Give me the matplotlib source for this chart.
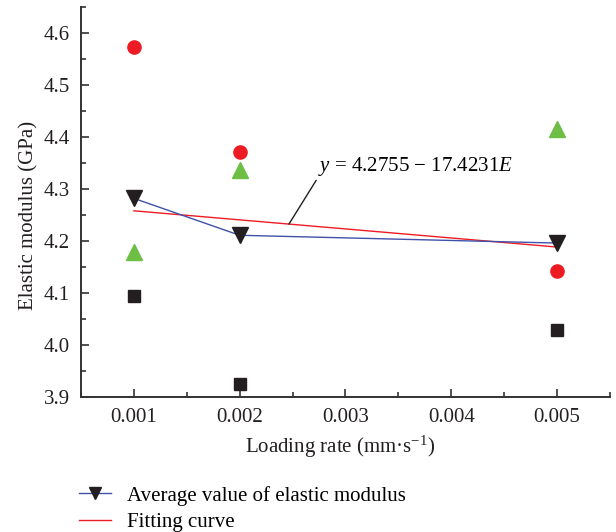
import matplotlib
matplotlib.use("Agg")
import matplotlib.pyplot as plt
import numpy as np
from matplotlib.ticker import MultipleLocator

plt.rcParams['font.family'] = ['Liberation Serif', 'DejaVu Serif']
plt.rcParams['mathtext.fontset'] = 'custom'
plt.rcParams['mathtext.rm'] = 'Liberation Serif'
plt.rcParams['mathtext.it'] = 'Liberation Serif:italic'

# Data
loading_rate = [0.001, 0.002, 0.005]
sample_red = [4.574, 4.372, 4.143]
sample_green = [4.178, 4.336, 4.416]
sample_black = [4.094, 3.924, 4.029]
average_modulus = [4.282, 4.211, 4.196]
fit_intercept = 4.2755
fit_slope = -17.4231
fit_range = [0.001, 0.005]
x_ticks = [0.001, 0.002, 0.003, 0.004, 0.005]
x_ticklabels = ['0.001', '0.002', '0.003', '0.004', '0.005']
y_ticks = [3.9, 4.0, 4.1, 4.2, 4.3, 4.4, 4.5, 4.6]

FS = 15

fig = plt.figure(figsize=(6.16, 5.32), dpi=100)
ax = fig.add_axes([0.1315, 0.2538, 0.8585, 0.733])

RED = '#ED1C24'
GREEN = '#6DBE45'
BLACK = '#231F20'
BLUE = '#3F51A8'

ax.plot(loading_rate, sample_red, 'o', color=RED, markersize=9.5, zorder=3)
ax.plot(loading_rate, sample_green, '^', color=GREEN, markersize=11.5, zorder=3)
ax.plot(loading_rate, sample_black, 's', color=BLACK, markersize=8.3, zorder=3)

fit_x = np.array(fit_range)
fit_y = fit_intercept + fit_slope * fit_x
ax.plot(loading_rate, average_modulus, '-', color=BLUE, lw=1.0, marker='v',
        markersize=12, markerfacecolor=BLACK, markeredgecolor=BLACK,
        label='Average value of elastic modulus', zorder=4)
ax.plot(fit_x, fit_y, '-', color=RED, lw=1.0, label='Fitting curve', zorder=3)

E0 = 0.002466
ax.annotate(r'$y$ = 4.2755 − 17.4231$E$', xy=(E0, fit_intercept + fit_slope * E0),
            xytext=(0.00274, 4.322), fontsize=FS, ha='left', va='bottom',
            arrowprops=dict(arrowstyle='-', color=BLACK, lw=1.0, relpos=(0, 0),
                            shrinkA=0, shrinkB=0))

ax.set_xlim(0.0005, 0.0055)
ax.set_ylim(3.9, 4.65)
ax.set_xticks(x_ticks)
ax.set_xticklabels(x_ticklabels)
ax.set_yticks(y_ticks)
ax.set_yticklabels([f'{v:.1f}' for v in y_ticks])
ax.xaxis.set_minor_locator(MultipleLocator(0.0005))
ax.yaxis.set_minor_locator(MultipleLocator(0.05))

for s in ['top', 'right']:
    ax.spines[s].set_visible(False)
for s in ['left', 'bottom']:
    ax.spines[s].set_linewidth(1.4)
    ax.spines[s].set_color('#333333')

ax.tick_params(which='major', direction='in', length=6, width=1.2, labelsize=FS,
               colors='#333333', labelcolor='#231F20', pad=8)
ax.tick_params(which='minor', direction='in', length=3.5, width=1.2, colors='#333333')

ax.set_xlabel('Loading rate (mm·s$^{-1}$)', fontsize=FS, color='#231F20')
ax.set_ylabel('Elastic modulus (GPa)', fontsize=FS, color='#231F20')
ax.xaxis.set_label_coords(0.49, -0.095)
ax.yaxis.set_label_coords(-0.081, 0.465)

fig.legend(loc='upper left', bbox_to_anchor=(0.128, 0.087), frameon=False,
           fontsize=FS, handlelength=1.55, handletextpad=0.75, borderpad=0,
           borderaxespad=0, labelspacing=0.32, markerscale=0.7)

fig.savefig('out.png', dpi=100)
